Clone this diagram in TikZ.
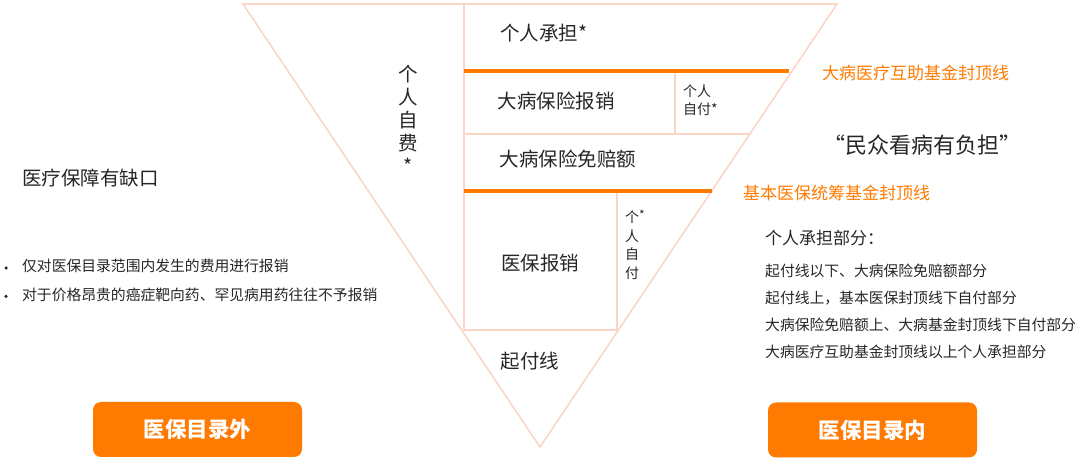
\documentclass[tikz,border=0pt]{standalone}
\usepackage{fontspec}
\newfontfamily\cjk{Noto Sans CJK SC}
\usepackage{xcolor}
\usetikzlibrary{positioning, calc}
\definecolor{peach}{HTML}{FBD6C6}
\definecolor{orng}{HTML}{FF7A00}
\definecolor{ink}{HTML}{262626}

\begin{document}
\begin{tikzpicture}[x=1pt, y=-1pt, font=\cjk, text=ink,
  tri/.style={draw=peach, line width=1.6pt},
  capline/.style={draw=orng, line width=4.5pt},
  midtext/.style={font=\cjk\fontsize{19.5}{23}\selectfont, inner sep=0pt, align=center},
  sidetext/.style={font=\cjk\fontsize{14}{18.5}\selectfont, inner sep=0pt},
  note/.style={font=\cjk\fontsize{17}{20}\selectfont, text=orng, anchor=west, inner sep=0pt},
  listitem/.style={font=\cjk\fontsize{14.8}{18}\selectfont, anchor=west, inner sep=0pt, text height=11pt, text depth=3pt},
  dot/.style={circle, fill=ink, inner sep=0pt, minimum size=3.5pt},
  button/.style={fill=orng, rounded corners=8pt, text=white, font=\cjk\bfseries\fontsize{21.5}{24}\selectfont, minimum width=209pt, minimum height=55pt}]
\useasboundingbox (0,0) rectangle (1080,462);

% triangle
\coordinate (tl) at (243,4);
\coordinate (tr) at (837,4);
\coordinate (ap) at (540,447);
\coordinate (d1) at (464,4);
\coordinate (r1) at ($(ap)!0.849!(tr)$);
\coordinate (r2) at ($(ap)!0.7065!(tr)$);
\coordinate (r3) at ($(ap)!0.578!(tr)$);
\coordinate (r4) at ($(ap)!0.2641!(tr)$);
\coordinate (v1) at (675,71);
\coordinate (v2) at (617,191);
\draw [tri] (tl) -- (tr) -- (ap) -- cycle;
\draw [tri] (d1) -- (r4 -| d1) -- (r4);
\draw [tri] (r2 -| d1) -- (r2);
\draw [tri] (v1) -- (v1 |- r2);
\draw [tri] (v2) -- (v2 |- r4);
\draw [capline] (r1 -| d1) -- ($(r1)+(-3,0)$);
\draw [capline] (r3 -| d1) -- (r3);

\node (pa) [midtext] at (544,33) {个人承担*};
\node (dbbx) [midtext] at (556,101) {大病保险报销};
\node (zf1) [sidetext, anchor=west, align=left] at (683,100) {个人\\自付*};
\node (dbmp) [midtext] at (568,159) {大病保险免赔额};
\node (ybbx) [midtext] at (540,263) {医保报销};
\node (zf2) [sidetext, align=center] at (632,245) {个\rlap{\raisebox{3pt}{\fontsize{12}{12}\selectfont *}}\\人\\自\\付};
\node (qfx) [midtext] at (530,361) {起付线};
\node (zf) [midtext] at (408,119) {个\\人\\自\\费\\*};

% right side
\node (fd1) [note] at (822,73) {大病医疗互助基金封顶线};
\node (mz) [midtext, anchor=west, font=\cjk\fontsize{22}{26}\selectfont] at (823,145) {“民众看病有负担”};
\node (fd2) [note] at (743,193) {基本医保统筹基金封顶线};
\node (grcd) [note, text=ink] at (765,238) {个人承担部分：};
\node (it1) [listitem] at (765,273) {起付线以下、大病保险免赔额部分};
\node (it2) [listitem, below=12.5pt of it1.south west, anchor=north west] {起付线上，基本医保封顶线下自付部分};
\node (it3) [listitem, below=12.5pt of it2.south west, anchor=north west] {大病保险免赔额上、大病基金封顶线下自付部分};
\node (it4) [listitem, below=12.5pt of it3.south west, anchor=north west] {大病医疗互助基金封顶线以上个人承担部分};

% left side
\node (qk) [midtext, anchor=west] at (22,178) {医疗保障有缺口};
\node (b1) [listitem] at (22,268) {仅对医保目录范围内发生的费用进行报销};
\node (b2) [listitem, below=14pt of b1.south west, anchor=north west] {对于价格昂贵的癌症靶向药、罕见病用药往往不予报销};
\node (b1dot) [dot, left=14pt of b1] {};
\node (b2dot) [dot, left=14pt of b2] {};

% buttons
\node (out) [button] at (197.5,429.5) {医保目录外};
\node (in) [button] at (872.5,430) {医保目录内};
\end{tikzpicture}
\end{document}
